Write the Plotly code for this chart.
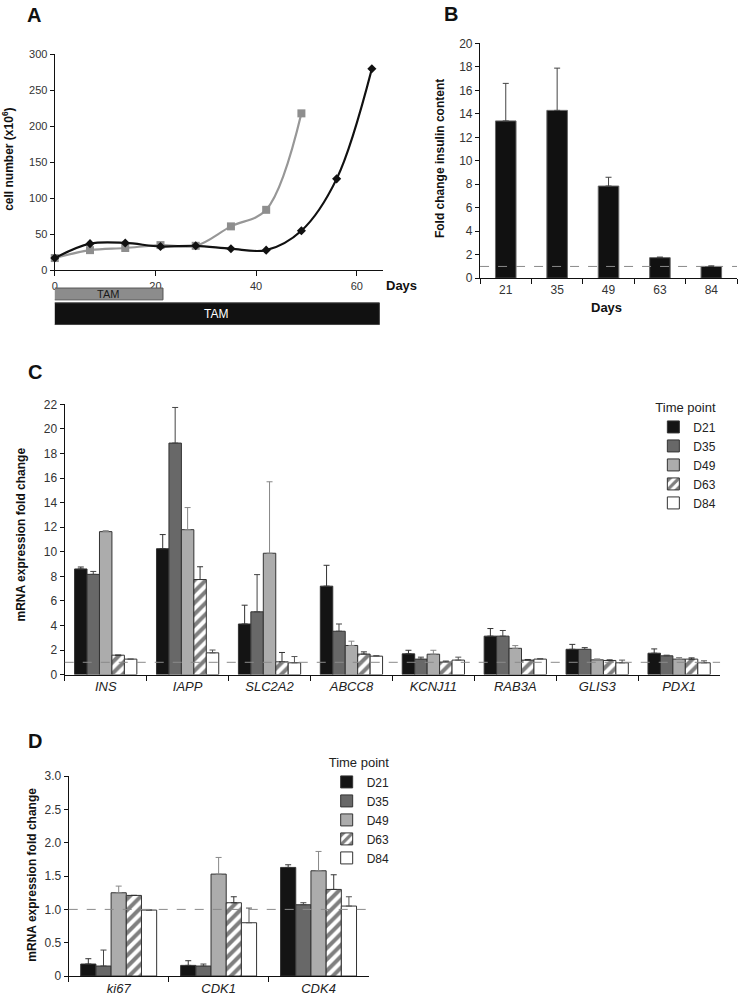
import plotly.graph_objects as go

W, H = 738, 1007
def X(px): return px / W
def Y(py): return 1 - py / H

FONT = "Liberation Sans, Arial, sans-serif"
TICKC = "#333333"

# ---------------- Panel A data ----------------
days_black = [0, 7, 14, 21, 28, 35, 42, 49, 56, 63]
cells_black = [17, 37, 38, 33, 34, 30, 28, 55, 127, 280]
days_gray = [0, 7, 14, 21, 28, 35, 42, 49]
cells_gray = [17, 28, 31, 35, 34, 61, 84, 218]
tam_labels = ["TAM", "TAM"]
tam_start = [-0.4, -0.4]
tam_end = [21.5, 64.5]

# ---------------- Panel B data ----------------
b_days = ["21", "35", "49", "63", "84"]
b_vals = [13.4, 14.3, 7.85, 1.75, 1.0]
b_err = [3.2, 3.6, 0.75, 0.05, 0.05]

# ---------------- Panel C data ----------------
c_genes = ["INS", "IAPP", "SLC2A2", "ABCC8", "KCNJ11", "RAB3A", "GLIS3", "PDX1"]
c_d21 = [8.6, 10.25, 4.12, 7.2, 1.69, 3.13, 2.06, 1.74]
c_d21_err = [0.16, 1.15, 1.53, 1.7, 0.29, 0.62, 0.4, 0.35]
c_d35 = [8.16, 18.85, 5.11, 3.53, 1.26, 3.13, 2.06, 1.53]
c_d35_err = [0.24, 2.9, 3.03, 0.59, 0.16, 0.46, 0.14, 0.05]
c_d49 = [11.64, 11.8, 9.88, 2.37, 1.66, 2.14, 1.2, 1.26]
c_d49_err = [0.08, 1.8, 5.82, 0.35, 0.32, 0.22, 0.08, 0.13]
c_d63 = [1.58, 7.74, 1.04, 1.67, 1.02, 1.18, 1.15, 1.26]
c_d63_err = [0.0, 1.04, 0.76, 0.18, 0.08, 0.05, 0.05, 0.1]
c_d84 = [1.26, 1.77, 0.96, 1.5, 1.18, 1.26, 0.96, 0.96]
c_d84_err = [0.0, 0.23, 0.51, 0.05, 0.24, 0.05, 0.22, 0.16]

# ---------------- Panel D data ----------------
d_genes = ["ki67", "CDK1", "CDK4"]
d_d21 = [0.18, 0.16, 1.63]
d_d21_err = [0.08, 0.07, 0.04]
d_d35 = [0.15, 0.15, 1.07]
d_d35_err = [0.24, 0.03, 0.03]
d_d49 = [1.25, 1.53, 1.58]
d_d49_err = [0.1, 0.25, 0.29]
d_d63 = [1.21, 1.1, 1.30]
d_d63_err = [0.0, 0.09, 0.22]
d_d84 = [0.99, 0.8, 1.05]
d_d84_err = [0.0, 0.22, 0.14]

series_names = ["D21", "D35", "D49", "D63", "D84"]
series_fill = ["#141414", "#686868", "#acacac", "white", "white"]
series_err_col = ["#333333", "#444444", "#888888", "#333333", "#555555"]

fig = go.Figure()

# ---- Panel A ----
fig.add_trace(go.Scatter(
    x=days_gray, y=cells_gray, mode="lines+markers",
    line=dict(color="#979797", width=2.2, shape="spline", smoothing=1.0),
    marker=dict(symbol="square", size=8, color="#8e8e8e"),
    xaxis="x", yaxis="y", showlegend=False, cliponaxis=False))
fig.add_trace(go.Scatter(
    x=days_black, y=cells_black, mode="lines+markers",
    line=dict(color="#111111", width=2.2, shape="spline", smoothing=1.0),
    marker=dict(symbol="diamond", size=7, color="#111111"),
    xaxis="x", yaxis="y", showlegend=False, cliponaxis=False))

# ---- Panel B ----
fig.add_trace(go.Bar(
    x=b_days, y=b_vals, width=0.4,
    marker=dict(color="#111111", line=dict(color="#666666", width=1)),
    error_y=dict(type="data", array=b_err, arrayminus=[0] * len(b_err), symmetric=False,
                 color="#444444", thickness=1, width=3),
    xaxis="x2", yaxis="y2", showlegend=False))

# ---- Panel C & D ----
c_vals = [c_d21, c_d35, c_d49, c_d63, c_d84]
c_errs = [c_d21_err, c_d35_err, c_d49_err, c_d63_err, c_d84_err]
d_vals = [d_d21, d_d35, d_d49, d_d63, d_d84]
d_errs = [d_d21_err, d_d35_err, d_d49_err, d_d63_err, d_d84_err]

def marker_for(i):
    m = dict(color=series_fill[i], line=dict(color="#333333", width=1))
    if series_names[i] == "D63":
        m["pattern"] = dict(shape="/", fgcolor="#000000", bgcolor="white", size=8, solidity=0.5)
    return m

for i, name in enumerate(series_names):
    fig.add_trace(go.Bar(
        x=c_genes, y=c_vals[i], name=name, marker=marker_for(i),
        error_y=dict(type="data", array=c_errs[i], arrayminus=[0] * len(c_errs[i]), symmetric=False,
                     color=series_err_col[i], thickness=1, width=3),
        xaxis="x3", yaxis="y3", legend="legend"))
for i, name in enumerate(series_names):
    fig.add_trace(go.Bar(
        x=d_genes, y=d_vals[i], name=name, marker=marker_for(i),
        error_y=dict(type="data", array=d_errs[i], arrayminus=[0] * len(d_errs[i]), symmetric=False,
                     color=series_err_col[i], thickness=1, width=3),
        xaxis="x4", yaxis="y4", legend="legend2"))

axis_common = dict(showline=True, linecolor="#111111", linewidth=1.3, showgrid=False,
                   zeroline=False, ticks="outside", ticklen=5, tickcolor="#111111",
                   tickwidth=1, fixedrange=True)

fig.update_layout(
    width=W, height=H, margin=dict(l=0, r=0, t=0, b=0),
    paper_bgcolor="white", plot_bgcolor="white",
    font=dict(family=FONT, color="#222222", size=12),
    barmode="group", bargap=0.24, bargroupgap=0,
    xaxis=dict(axis_common, domain=[X(52), X(382)], range=[0, 65.3], tickvals=[0, 20, 40, 60],
               tickfont=dict(size=11, color=TICKC), anchor="y"),
    yaxis=dict(axis_common, domain=[Y(267), Y(48)], range=[0, 300], tickvals=list(range(0, 301, 50)),
               tickfont=dict(size=11, color=TICKC), anchor="x", ticklen=4),
    xaxis2=dict(axis_common, domain=[X(479), X(737)], type="category", range=[-0.5, 4.5],
                tickson="boundaries", tickfont=dict(size=12, color=TICKC), anchor="y2"),
    yaxis2=dict(axis_common, domain=[Y(275), Y(37)], range=[0, 20], tickvals=list(range(0, 21, 2)),
                tickfont=dict(size=12, color=TICKC), anchor="x2", ticklen=4),
    xaxis3=dict(axis_common, domain=[X(62), X(720)], type="category", range=[-0.5, 7.5],
                tickson="boundaries", tickfont=dict(size=13, color="#222222", style="italic"), anchor="y3"),
    yaxis3=dict(axis_common, domain=[Y(677), Y(403)], range=[0, 22], tickvals=list(range(0, 23, 2)),
                tickfont=dict(size=12, color=TICKC), anchor="x3", ticklen=4),
    xaxis4=dict(axis_common, domain=[X(66), X(367)], type="category", range=[-0.5, 2.5],
                tickson="boundaries", tickfont=dict(size=13, color="#222222", style="italic"), anchor="y4"),
    yaxis4=dict(axis_common, domain=[Y(982.7), Y(780)], range=[0, 3],
                tickvals=[0, 0.5, 1.0, 1.5, 2.0, 2.5, 3.0],
                ticktext=["0", "0.5", "1.0", "1.5", "2.0", "2.5", "3.0"],
                tickfont=dict(size=12, color=TICKC), anchor="x4", ticklen=4),
    legend=dict(x=X(653), y=Y(394), xanchor="left", yanchor="top",
                title=dict(text="Time point", font=dict(size=13, color="#222222")),
                font=dict(size=12, color="#222222"), bgcolor="rgba(0,0,0,0)", traceorder="normal"),
    legend2=dict(x=X(325), y=Y(754), xanchor="left", yanchor="top",
                 title=dict(text="Time point", font=dict(size=13, color="#222222")),
                 font=dict(size=12, color="#222222"), bgcolor="rgba(0,0,0,0)", traceorder="normal"),
)

shapes = []
annos = []
# dashed reference lines at fold change = 1
for xr, yr in [("x2 domain", "y2"), ("x3 domain", "y3"), ("x4 domain", "y4")]:
    shapes.append(dict(type="line", xref=xr, yref=yr, x0=0, x1=1, y0=1, y1=1,
                       line=dict(color="#8a8a8a", width=1, dash="dash"), layer="above"))
# TAM bars
tam_rows = [(285, 297, "#8c8c8c", "#555555", "#1a1a1a", 11), (300, 322, "#111111", "#444444", "white", 12)]
for k in range(2):
    top, bot, fill, border, tcol, fs = tam_rows[k]
    shapes.append(dict(type="rect", xref="x", yref="paper", x0=tam_start[k], x1=tam_end[k],
                       y0=Y(bot), y1=Y(top), fillcolor=fill, line=dict(color=border, width=1)))
    annos.append(dict(xref="x", yref="paper", x=(tam_start[k] + tam_end[k]) / 2, y=Y((top + bot) / 2),
                      text=tam_labels[k], showarrow=False, font=dict(size=fs, color=tcol),
                      xanchor="center", yanchor="middle"))

def label(px, py, text, size=12, bold=True, angle=0, xa="center", ya="middle", color="#111111"):
    t = f"<b>{text}</b>" if bold else text
    annos.append(dict(xref="paper", yref="paper", x=X(px), y=Y(py), text=t, showarrow=False,
                      textangle=angle, xanchor=xa, yanchor=ya, font=dict(size=size, color=color)))

label(22, 8, "A", size=20, xa="left")
label(441, 7, "B", size=20, xa="left")
label(23, 370, "C", size=20, xa="left")
label(23, 744, "D", size=20, xa="left")
label(5, 154, "cell number (x10<sup>6</sup>)", angle=-90)
label(383, 282, "Days", size=13, xa="left")
label(439, 154, "Fold change insulin content", angle=-90)
label(606, 305, "Days", size=13)
label(18, 535, "mRNA expression fold change", angle=-90)
label(29, 880, "mRNA expression fold change", angle=-90)

fig.update_layout(shapes=shapes, annotations=annos)
fig.write_html("out.html", config={"displayModeBar": False},
               post_script="document.body.style.margin='0px';document.body.style.padding='0px';")
